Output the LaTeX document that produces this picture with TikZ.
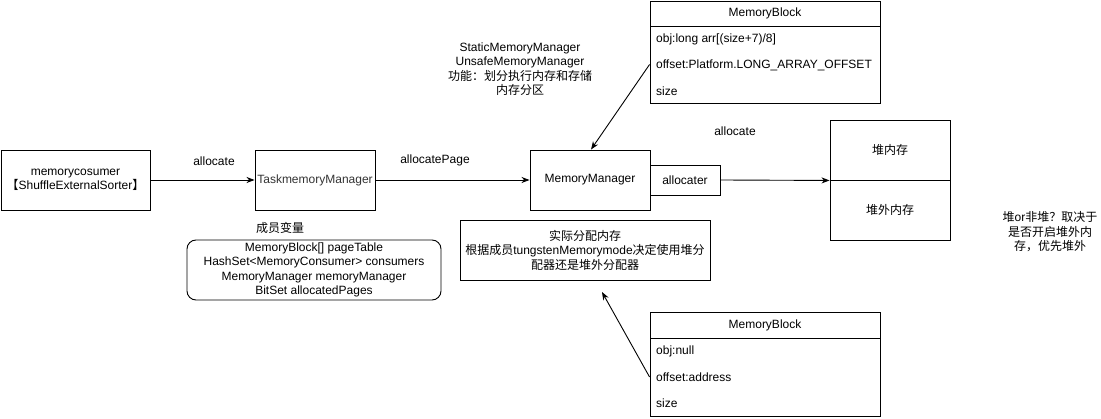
\documentclass[tikz,border=0pt]{standalone}
\usepackage{fontspec}
\setmainfont{Liberation Sans}
\newfontfamily\cjk{Noto Sans CJK SC}
\usetikzlibrary{arrows.meta}
\begin{document}
\begin{tikzpicture}[x=1pt,y=-1pt,
  font=\fontsize{12}{14.5}\selectfont,
  box/.style={draw,line width=0.9pt,rectangle,inner sep=0pt,align=center},
  txt/.style={inner sep=0pt,align=center},
  rowtxt/.style={inner sep=0pt,anchor=west},
  conn/.style={line width=0.9pt,-{Stealth[length=8pt,width=6pt,inset=2.5pt]}}]
\useasboundingbox (0,0) rectangle (1101,419);
% left chain
\node[box,minimum width=149pt,minimum height=60pt] (mc) at (75.5,180) {memorycosumer\\{\cjk 【}ShuffleExternalSorter{\cjk 】}};
\node[box,minimum width=120pt,minimum height=60pt,text=black!80] (tmm) at (315,180) {TaskmemoryManager};
\node[box,minimum width=120pt,minimum height=60pt] (mm) at (590,180) {MemoryManager};
\node[box,minimum width=70pt,minimum height=30pt] (alc) at (685,180) {allocater};
\node[box,minimum width=120pt,minimum height=60pt] (heapin) at (890,150) {{\cjk 堆内存}};
\node[box,minimum width=120pt,minimum height=60pt] (heapout) at (890,210) {{\cjk 堆外内存}};
\draw[conn] (mc.east) -- (tmm.west);
\draw[conn] (tmm.east) -- (mm.west);
\draw[conn] (alc.east) -- (heapin.south west);
\node[txt] (l1) at (214,161) {allocate};
\node[txt] (l2) at (435,160) {allocatePage};
\node[txt] (l3) at (735,131) {allocate};
% notes
\node[txt] (smm) at (520,69) {StaticMemoryManager\\UnsafeMemoryManager\\{\cjk 功能：划分执行内存和存储}\\{\cjk 内存分区}};
\node[txt] (note) at (1050,232) {{\cjk 堆}or{\cjk 非堆？取决于}\\{\cjk 是否开启堆外内}\\{\cjk 存，优先堆外}};
% members
\node[txt] (memt) at (280,228) {{\cjk 成员变量}};
\node[box,rounded corners=9pt,minimum width=254pt,minimum height=60pt] (mem) at (314,270) {MemoryBlock[] pageTable\\HashSet<MemoryConsumer> consumers\\MemoryManager memoryManager\\BitSet allocatedPages};
% description
\node[box,minimum width=250pt,minimum height=60pt] (desc) at (585,250) {{\cjk 实际分配内存}\\{\cjk 根据成员}tungstenMemorymode{\cjk 决定使用堆分}\\{\cjk 配器还是堆外分配器}};
% MemoryBlock top
\node[box,minimum width=230pt,minimum height=25pt] (mb1h) at (765,13.5) {MemoryBlock};
\node[box,minimum width=230pt,minimum height=77pt] (mb1) at (765,64.5) {};
\node[rowtxt] (mb1a) at (656,39) {obj:long arr[(size+7)/8]};
\node[rowtxt] (mb1b) at (656,65) {offset:Platform.LONG\_ARRAY\_OFFSET};
\node[rowtxt] (mb1c) at (656,91) {size};
% MemoryBlock bottom
\node[box,minimum width=230pt,minimum height=26pt] (mb2h) at (765,325) {MemoryBlock};
\node[box,minimum width=230pt,minimum height=78pt] (mb2) at (765,377) {};
\node[rowtxt] (mb2a) at (656,351) {obj:null};
\node[rowtxt] (mb2b) at (656,377) {offset:address};
\node[rowtxt] (mb2c) at (656,403) {size};
\coordinate (tip) at (602,292);
\draw[conn] (mb1.west) -- ([xshift=1pt]mm.north);
\draw[conn] (mb2.west) -- (tip);
\end{tikzpicture}
\end{document}
